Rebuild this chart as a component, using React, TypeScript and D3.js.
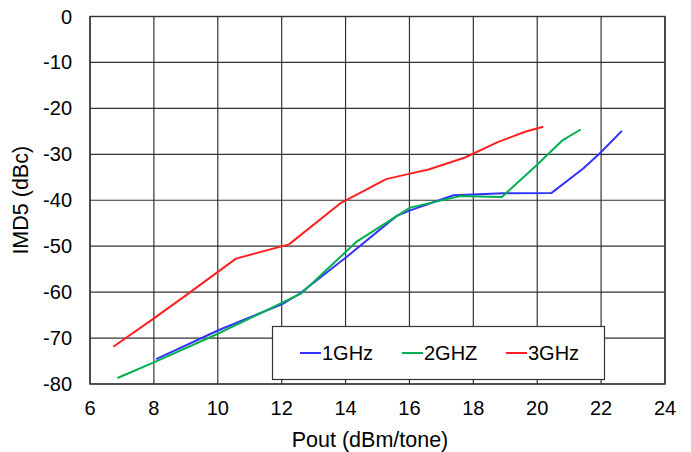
import React from "react";
import * as d3 from "d3";

const xTicks = [6, 8, 10, 12, 14, 16, 18, 20, 22, 24];
const yTicks = [0, -10, -20, -30, -40, -50, -60, -70, -80];

const seriesNames = ["1GHz", "2GHZ", "3GHz"];
const seriesColors = ["#3333ff", "#00b050", "#ff2020"];

const ghz1: [number, number][] = [
  [8.07, -74.6], [10.02, -68.3], [12.02, -62.6], [12.57, -60.3], [14.04, -52.3],
  [15.6, -43.4], [16.02, -42.2], [17.38, -38.9], [18.94, -38.5], [20.45, -38.4],
  [21.44, -33.1], [21.97, -29.7], [22.65, -24.9],
];
const ghz2: [number, number][] = [
  [6.86, -78.7], [8.0, -75.3], [10.02, -69.0], [12.02, -62.3], [12.63, -60.2],
  [14.35, -49.0], [16.02, -41.6], [17.58, -39.1], [18.89, -39.3], [19.98, -32.4],
  [20.8, -26.9], [21.36, -24.6],
];
const ghz3: [number, number][] = [
  [6.73, -71.9], [8.0, -65.7], [9.0, -60.7], [10.57, -52.7], [12.23, -49.6],
  [13.83, -40.7], [15.27, -35.4], [16.02, -34.2], [16.6, -33.3], [17.74, -30.7],
  [18.78, -27.3], [19.62, -25.1], [20.19, -24.0],
];
const seriesData = [ghz1, ghz2, ghz3];

export default function App() {
  const W = 691, H = 452;
  const x = d3.scaleLinear().domain([6, 24]).range([90, 665]);
  const y = d3.scaleLinear().domain([-80, 0]).range([384, 16.5]);
  const line = d3.line<[number, number]>().x(d => x(d[0])).y(d => y(d[1]));
  const font = "Liberation Sans, Arial, sans-serif";
  const grid = "#333";

  return (
    <svg width={W} height={H} style={{ position: "absolute", left: 0, top: 0, background: "#fff" }} fontFamily={font}>
      <rect x={0} y={0} width={W} height={H} fill="#fff" />
      {xTicks.map(t => (
        <line key={"vx" + t} x1={x(t)} x2={x(t)} y1={y(0)} y2={y(-80)} stroke={grid} strokeWidth={1.2} />
      ))}
      {yTicks.map(t => (
        <line key={"hy" + t} x1={x(6)} x2={x(24)} y1={y(t)} y2={y(t)} stroke={grid} strokeWidth={1.2} />
      ))}
      <rect x={x(6)} y={y(0)} width={x(24) - x(6)} height={y(-80) - y(0)} fill="none" stroke={grid} strokeWidth={1.4} />
      {seriesData.map((d, i) => (
        <path key={"s" + i} d={line(d) || ""} fill="none" stroke={seriesColors[i]} strokeWidth={2} strokeLinejoin="round" />
      ))}
      {yTicks.map(t => (
        <text key={"ty" + t} x={x(6) - 18} y={y(t)} dy="0.35em" textAnchor="end" fontSize={20} fill="#000">{t}</text>
      ))}
      {xTicks.map(t => (
        <text key={"tx" + t} x={x(t)} y={y(-80) + 24} dy="0.35em" textAnchor="middle" fontSize={20} fill="#000">{t}</text>
      ))}
      <text x={370} y={447} textAnchor="middle" fontSize={21.5} fill="#000">Pout (dBm/tone)</text>
      <text transform={`translate(28,${(y(0) + y(-80)) / 2}) rotate(-90)`} textAnchor="middle" fontSize={21.5} fill="#000">IMD5 (dBc)</text>
      <g>
        <rect x={272.5} y={326.5} width={332} height={53} fill="#fff" stroke={grid} strokeWidth={1.2} />
        {seriesNames.map((n, i) => {
          const lx = [300, 402, 506][i];
          return (
            <g key={"lg" + i}>
              <line x1={lx} x2={lx + 21} y1={353} y2={353} stroke={seriesColors[i]} strokeWidth={2} />
              <text x={lx + 22} y={353} dy="0.35em" fontSize={20} fill="#000">{n}</text>
            </g>
          );
        })}
      </g>
    </svg>
  );
}
